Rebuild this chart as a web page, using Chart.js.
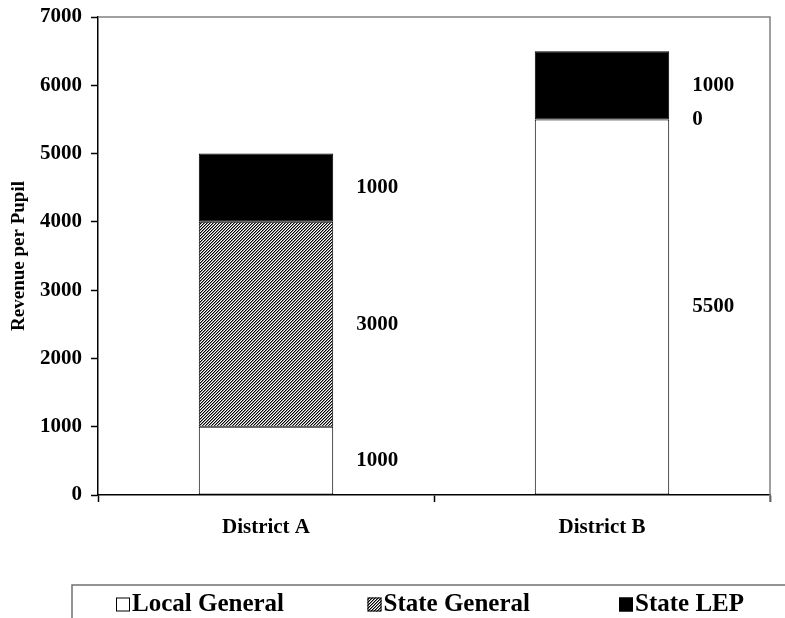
<!DOCTYPE html>
<html>
<head>
<meta charset="utf-8">
<script src="https://cdn.jsdelivr.net/npm/chart.js@4/dist/chart.umd.min.js"></script>
<style>
  html, body { margin: 0; padding: 0; background: #fff; }
  #wrap { width: 785px; height: 618px; position: relative; }
</style>
</head>
<body>
<div id="wrap"><canvas id="chart" width="785" height="618"></canvas></div>
<script>
// Revenue per pupil by source, stacked per district
const districts = ['District A', 'District B'];
const localGeneral = [1000, 5500];
const stateGeneral = [3000, 0];
const stateLEP = [1000, 1000];
const seriesNames = ['Local General', 'State General', 'State LEP'];
const yTicks = [0, 1000, 2000, 3000, 4000, 5000, 6000, 7000];

const SERIF = '"Liberation Serif", "Times New Roman", serif';

// Fine "/" hatching for the State General segments
function makeHatch() {
  const c = document.createElement('canvas');
  c.width = 3; c.height = 3;
  const g = c.getContext('2d');
  g.fillStyle = '#fff';
  g.fillRect(0, 0, 3, 3);
  for (let x = 0; x < 3; x++) {
    for (let y = 0; y < 3; y++) {
      const k = (x + y) % 3;
      if (k === 0) { g.fillStyle = '#000'; g.fillRect(x, y, 1, 1); }
      else if (k === 1) { g.fillStyle = '#8a8a8a'; g.fillRect(x, y, 1, 1); }
    }
  }
  return g.createPattern(c, 'repeat');
}
const hatch = makeHatch();

// Thin frame along the top and right of the plot area
const framePlugin = {
  id: 'frame',
  beforeDatasetsDraw(chart) {
    const { ctx, chartArea: a } = chart;
    ctx.save();
    ctx.strokeStyle = '#808080';
    ctx.lineWidth = 1.5;
    ctx.beginPath();
    ctx.moveTo(a.left, a.top);
    ctx.lineTo(a.right, a.top);
    ctx.lineTo(a.right, a.bottom + 7);
    ctx.stroke();
    ctx.restore();
  }
};

// Value labels to the right of each stacked segment
const valueLabels = {
  id: 'valueLabels',
  afterDatasetsDraw(chart) {
    const { ctx } = chart;
    ctx.save();
    ctx.font = 'bold 21px ' + SERIF;
    ctx.fillStyle = '#000';
    ctx.textAlign = 'left';
    ctx.textBaseline = 'middle';
    chart.data.datasets.forEach((ds, di) => {
      const meta = chart.getDatasetMeta(di);
      meta.data.forEach((bar, i) => {
        const v = ds.data[i];
        const p = bar.getProps(['x', 'y', 'base', 'width'], true);
        const x = p.x + p.width / 2 + 23;
        const y = (p.y + p.base) / 2;
        ctx.fillText(String(v), x, y);
      });
    });
    ctx.restore();
  }
};

// Boxed legend along the bottom edge
const boxLegend = {
  id: 'boxLegend',
  afterDraw(chart) {
    const { ctx } = chart;
    const top = 585, left = 72;
    ctx.save();
    ctx.strokeStyle = '#707070';
    ctx.lineWidth = 1.5;
    ctx.strokeRect(left, top, chart.width + 20, 80);
    ctx.font = 'bold 25px ' + SERIF;
    ctx.textAlign = 'left';
    ctx.textBaseline = 'middle';
    const cy = 604;
    chart.data.datasets.forEach((ds, i) => {
      const x0 = 116 + i * 251.5;
      ctx.fillStyle = ds.backgroundColor;
      ctx.fillRect(x0, cy - 6.5, 14, 14);
      ctx.strokeStyle = '#000';
      ctx.lineWidth = 1;
      ctx.strokeRect(x0 + 0.5, cy - 6, 13, 13);
      ctx.fillStyle = '#000';
      ctx.fillText(ds.label, x0 + 16, cy + 1);
    });
    ctx.restore();
  }
};

const common = { borderColor: '#000', borderWidth: 1, borderSkipped: false,
                 barPercentage: 0.4, categoryPercentage: 1.0 };

new Chart(document.getElementById('chart'), {
  type: 'bar',
  data: {
    labels: districts,
    datasets: [
      Object.assign({ label: seriesNames[0], data: localGeneral, backgroundColor: '#ffffff' }, common),
      Object.assign({ label: seriesNames[1], data: stateGeneral, backgroundColor: hatch }, common),
      Object.assign({ label: seriesNames[2], data: stateLEP, backgroundColor: '#000000' }, common)
    ]
  },
  options: {
    responsive: false,
    animation: false,
    layout: { padding: { top: 17, right: 15, bottom: 78, left: 0 } },
    plugins: { legend: { display: false }, tooltip: { enabled: false } },
    scales: {
      x: {
        stacked: true,
        grid: { display: true, drawOnChartArea: false, drawTicks: true, tickLength: 7,
                tickColor: '#000', tickWidth: 1.5, offset: true },
        border: { display: true, color: '#000', width: 1.5 },
        ticks: { color: '#000', padding: 13, font: { family: SERIF, size: 21, weight: 'bold' } },
        afterFit(scale) { scale.height = 45; }
      },
      y: {
        stacked: true,
        min: 0,
        max: 7000,
        afterBuildTicks(scale) { scale.ticks = yTicks.map(v => ({ value: v })); },
        grid: { display: true, drawOnChartArea: false, drawTicks: true, tickLength: 7,
                tickColor: '#000', tickWidth: 1.5 },
        border: { display: true, color: '#000', width: 1.5 },
        ticks: { color: '#000', padding: 9, font: { family: SERIF, size: 21, weight: 'bold' },
                 callback: v => String(v) },
        title: { display: true, text: 'Revenue per Pupil', color: '#000',
                 font: { family: SERIF, size: 19, weight: 'bold' }, padding: { top: 8, bottom: 4 } },
        afterFit(scale) { scale.width = 98; scale.paddingTop = 0; scale.paddingBottom = 0; }
      }
    }
  },
  plugins: [framePlugin, valueLabels, boxLegend]
});
</script>
</body>
</html>
